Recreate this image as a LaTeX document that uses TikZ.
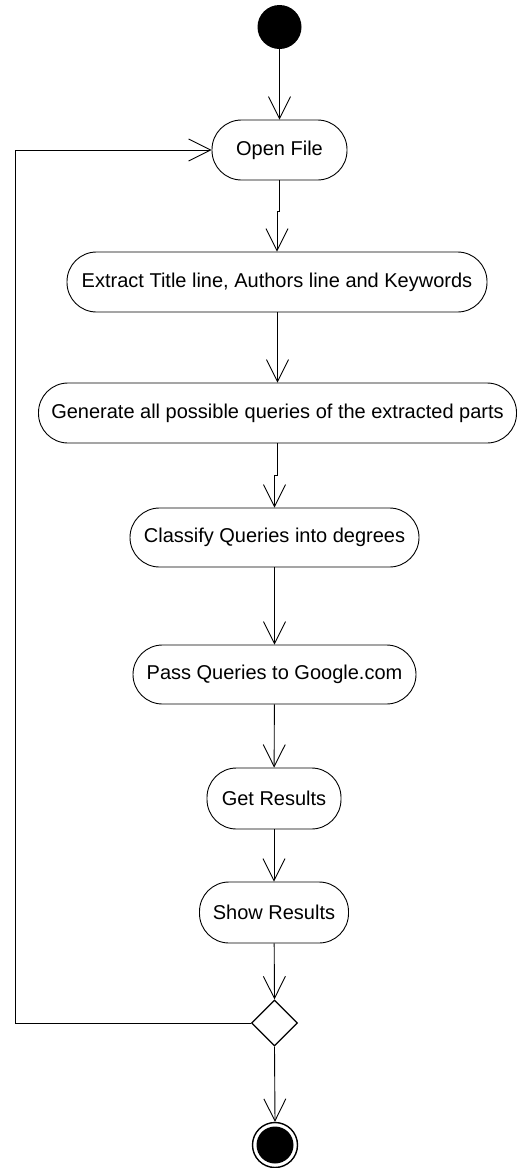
\documentclass[tikz,border=0pt]{standalone}
\usepackage{fontspec}
\setmainfont{Liberation Sans}
\usetikzlibrary{arrows.meta,shapes.geometric}
\begin{document}
\begin{tikzpicture}[x=1pt,y=-1pt,
  action/.style={draw,line width=0.9pt,rectangle,rounded corners=29.5pt,
    minimum height=60pt,inner sep=0pt,
    font=\fontsize{20}{24}\selectfont},
  flow/.style={draw,line width=0.9pt,
    -{Straight Barb[length=22pt,width=22pt,line width=0.9pt]}},
  decision/.style={draw,diamond,line width=1.3pt,inner sep=0pt,
    minimum width=46pt,minimum height=46pt},
  initial/.style={circle,fill=black,inner sep=0pt,minimum size=44pt},
  final/.style={circle,draw,line width=1.4pt,inner sep=0pt,minimum size=45pt}
]
\useasboundingbox (0,0) rectangle (523,1168);

% start and end markers
\node[initial] (start) at (279.5,27) {};
\node[final] (stop) at (275,1145) {};
\fill (stop.center) circle (18.5pt);

% activities
\node[action,minimum width=135pt] (open)     at (279.5,150)   {Open File};
\node[action,minimum width=420pt] (extract)  at (277,282)     {Extract Title line, Authors line and Keywords};
\node[action,minimum width=478pt] (generate) at (277.5,413)   {Generate all possible queries of the extracted parts};
\node[action,minimum width=289pt,minimum height=59pt] (classify) at (274.5,537.5) {Classify Queries into degrees};
\node[action,minimum width=283pt,minimum height=59pt] (pass)     at (274.5,674.5) {Pass Queries to Google.com};
\node[action,minimum width=134pt,minimum height=61pt] (get)      at (274,798.5)   {Get Results};
\node[action,minimum width=149pt,minimum height=61pt] (show)     at (274,912.5)   {Show Results};

% decision
\node[decision] (choice) at (274.5,1023) {};
\coordinate (corner) at (15,1023);

% control flow
\draw[flow] (start) -- (open.north);
\draw[flow] (open.south) -- ++(0,31) -| (extract.north);
\draw[flow] (extract.south) -- ++(0,33) -| (generate.north);
\draw[flow] (generate.south) -- ++(0,32) -| (classify.north);
\draw[flow] (classify) -- (pass);
\draw[flow] (pass) -- (get);
\draw[flow] (get) -- (show);
\draw[flow] (show) -- (choice.north);
\draw[flow] (choice.south) -- (stop.north);
\draw[flow] (choice.west) -- (corner) |- (open.west);
\end{tikzpicture}
\end{document}
